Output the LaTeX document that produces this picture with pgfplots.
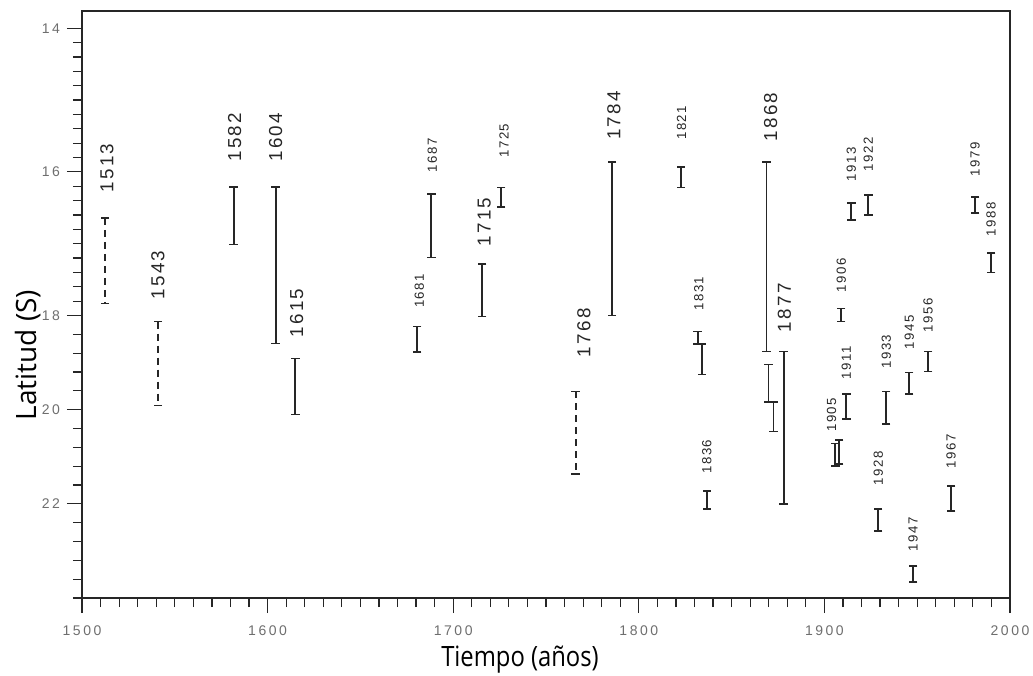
\documentclass[border=0pt]{standalone}
\usepackage{fontspec}
\usepackage{graphicx}
\usepackage{pgfplots}
\pgfplotsset{compat=1.18}
\setmainfont{Open Sans}
\newfontfamily\lblfont[LetterSpace=12]{Liberation Sans}
\newfontfamily\tickfont[LetterSpace=18]{Liberation Sans}
\definecolor{ink}{HTML}{262626}
\definecolor{tickgray}{HTML}{6E6E6E}
\pgfplotsset{
  seg/.style={ink, line width=0.95pt, mark=-, mark size=2.1pt, mark options={solid, line width=0.8pt}},
  dseg/.style={seg, dash pattern=on 3.5pt off 2.5pt},
}
\newcommand\BL[3]{\node[rotate=90, anchor=west, inner sep=0pt, text=ink, font=\lblfont\fontsize{9.4}{10}\selectfont] at (axis cs:#1,#2) {#3};}
\newcommand\SL[3]{\node[rotate=90, anchor=west, inner sep=0pt, text=ink, font=\lblfont\fontsize{6.6}{7}\selectfont] at (axis cs:#1,#2) {#3};}
\begin{document}
\begin{tikzpicture}
\begin{axis}[
  at={(0pt,0pt)}, anchor=south west,
  scale only axis, width=464pt, height=293.5pt,
  xmin=1500, xmax=2000,
  y coord trafo/.code={%
    \begingroup
    \pgfkeys{/pgf/fpu=true,/pgf/fpu/output format=fixed}%
    \pgfmathparse{ifthenelse(#1<18, (#1-14)*72, 288+(#1-18)*47.2)}%
    \xdef\latpos{\pgfmathresult}%
    \endgroup
    \let\pgfmathresult\latpos
  },
  ymin=13.76, ymax=24, y dir=reverse,
  axis line style={ink, line width=0.8pt},
  tick pos=left, tick align=outside,
  major tick length=7.5pt, minor tick length=4.5pt,
  tick style={ink, line width=0.6pt},
  xtick={1500,1600,1700,1800,1900,2000},
  xticklabels={1500,1600,1700,1800,1900,2000},
  minor x tick num=9,
  ytick={14,16,18,20,22}, yticklabels={14,16,18,20,22},
  minor ytick={14.2,14.4,14.6,14.8,15,15.2,15.4,15.6,15.8,16.2,16.4,16.6,16.8,17,17.2,17.4,17.6,17.8,18.4,18.8,19.2,19.6,20.4,20.8,21.2,21.6,22.4,22.8,23.2,23.6,24},
  ticklabel style={font=\tickfont\fontsize{7}{8}\selectfont, text=tickgray},
  /pgf/number format/assume math mode=true,
  xticklabel style={yshift=-3pt},
  xlabel={\scalebox{0.85}[1]{Tiempo (años)}},
  xlabel style={at={(axis description cs:0.472,-0.1056)}, anchor=center, font=\fontsize{14}{16}\selectfont, text=black},
  ylabel={Latitud (S)},
  ylabel style={at={(axis description cs:-0.0582,0.414)}, anchor=center, font=\fontsize{14}{16}\selectfont, text=black},
  clip=false,
]
% dashed segments
\addplot[dseg] coordinates {(1512.4,16.64) (1512.4,17.83)};
\addplot[dseg] coordinates {(1540.9,18.13) (1540.9,19.91)};
\addplot[dseg] coordinates {(1766.0,19.61) (1766.0,21.37)};
% solid segments
\addplot[seg] coordinates {(1581.7,16.21) (1581.7,17.01)};
\addplot[seg] coordinates {(1604.3,16.21) (1604.3,18.59)};
\addplot[seg] coordinates {(1615.0,18.91) (1615.0,20.10)};
\addplot[seg] coordinates {(1680.6,18.23) (1680.6,18.78)};
\addplot[seg] coordinates {(1688.2,16.31) (1688.2,17.19)};
\addplot[seg] coordinates {(1715.6,17.28) (1715.6,18.02)};
\addplot[seg] coordinates {(1725.8,16.22) (1725.8,16.49)};
\addplot[seg] coordinates {(1785.5,15.86) (1785.5,18.00)};
\addplot[seg] coordinates {(1822.6,15.93) (1822.6,16.22)};
\addplot[seg] coordinates {(1831.7,18.34) (1831.7,18.61)};
\addplot[seg] coordinates {(1833.9,18.61) (1833.9,19.25)};
\addplot[seg] coordinates {(1836.6,21.73) (1836.6,22.11)};
\addplot[seg] coordinates {(1868.8,15.86) (1868.8,18.76)};
\addplot[seg] coordinates {(1869.9,19.04) (1869.9,19.84)};
\addplot[seg] coordinates {(1872.6,19.84) (1872.6,20.46)};
\addplot[seg] coordinates {(1878.0,18.76) (1878.0,22.00)};
\addplot[seg] coordinates {(1905.9,20.72) (1905.9,21.19)};
\addplot[seg] coordinates {(1908.0,20.64) (1908.0,21.15)};
\addplot[seg] coordinates {(1909.1,17.90) (1909.1,18.13)};
\addplot[seg] coordinates {(1911.8,19.67) (1911.8,20.20)};
\addplot[seg] coordinates {(1914.5,16.43) (1914.5,16.67)};
\addplot[seg] coordinates {(1923.7,16.32) (1923.7,16.60)};
\addplot[seg] coordinates {(1929.0,22.11) (1929.0,22.58)};
\addplot[seg] coordinates {(1933.3,19.61) (1933.3,20.31)};
\addplot[seg] coordinates {(1945.7,19.21) (1945.7,19.67)};
\addplot[seg] coordinates {(1947.8,23.32) (1947.8,23.66)};
\addplot[seg] coordinates {(1955.9,18.76) (1955.9,19.19)};
\addplot[seg] coordinates {(1968.3,21.62) (1968.3,22.15)};
\addplot[seg] coordinates {(1981.2,16.35) (1981.2,16.57)};
\addplot[seg] coordinates {(1989.8,17.13) (1989.8,17.40)};
% big labels
\BL{1513.4}{16.29}{1513}
\BL{1540.9}{17.78}{1543}
\BL{1582.3}{15.86}{1582}
\BL{1604.3}{15.86}{1604}
\BL{1615.6}{18.47}{1615}
\BL{1716.7}{17.04}{1715}
\BL{1770.4}{18.89}{1768}
\BL{1786.6}{15.56}{1784}
\BL{1871.0}{15.58}{1868}
\BL{1878.5}{18.36}{1877}
% small labels
\SL{1681.7}{17.90}{1681}
\SL{1688.7}{16.01}{1687}
\SL{1727.4}{15.81}{1725}
\SL{1823.1}{15.56}{1821}
\SL{1832.3}{17.94}{1831}
\SL{1836.6}{21.37}{1836}
\SL{1903.8}{20.48}{1905}
\SL{1909.1}{17.68}{1906}
\SL{1911.8}{19.36}{1911}
\SL{1914.5}{16.14}{1913}
\SL{1923.7}{16.00}{1922}
\SL{1929.0}{21.62}{1928}
\SL{1933.3}{19.14}{1933}
\SL{1945.7}{18.72}{1945}
\SL{1947.8}{23.02}{1947}
\SL{1955.9}{18.36}{1956}
\SL{1968.3}{21.26}{1967}
\SL{1981.2}{16.07}{1979}
\SL{1989.8}{16.90}{1988}
\end{axis}
\pgfresetboundingbox
\path[use as bounding box] (-41pt,-38.5pt) rectangle (475.5pt,299pt);
\end{tikzpicture}
\end{document}
